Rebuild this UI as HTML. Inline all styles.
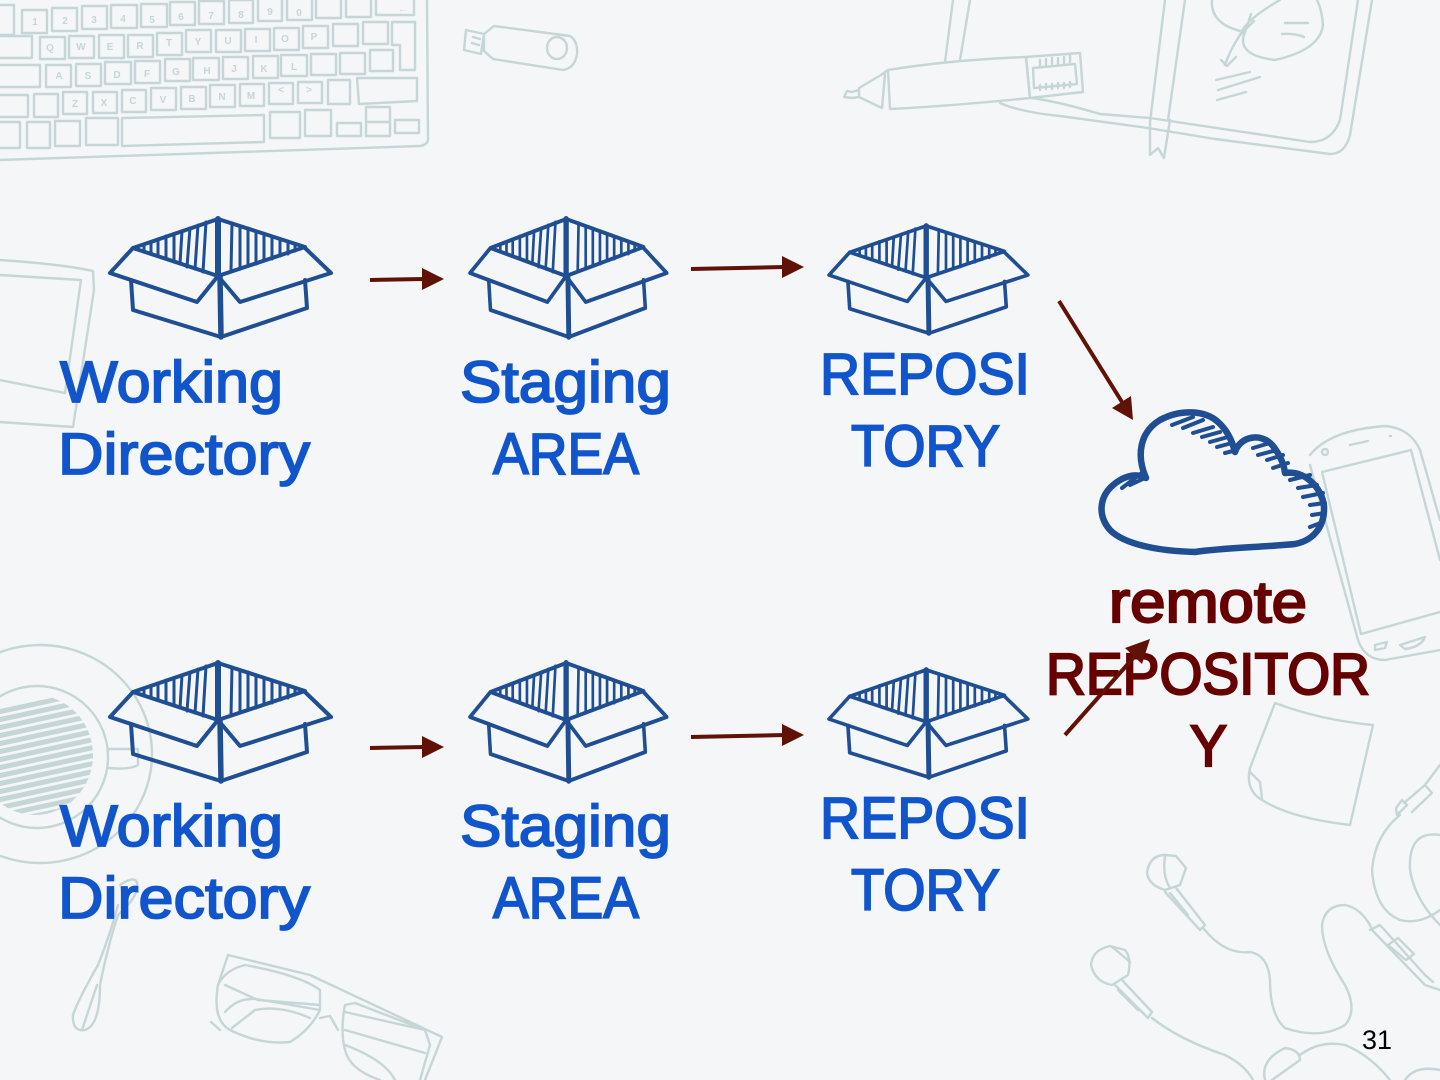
<!DOCTYPE html>
<html><head><meta charset="utf-8"><style>
html,body{margin:0;padding:0;background:#f4f6f8}
svg{display:block}
.bg{fill:none;stroke:#c6d6d6;stroke-width:2.4;stroke-linecap:round;stroke-linejoin:round}
.k{font:bold 10px "Liberation Sans",sans-serif;fill:#c6d6d6;stroke:none;text-anchor:middle}
.t{font-family:"Liberation Sans",sans-serif;font-size:58px;stroke-width:1.8}
.b{fill:#1155cc;stroke:#1155cc}
.r{fill:#660000;stroke:#660000;stroke-width:2.2}
.box{fill:none;stroke:#1f4e93;stroke-width:4;stroke-linejoin:round;stroke-linecap:round}
</style></head><body>
<svg width="1440" height="1080" viewBox="0 0 1440 1080" xmlns="http://www.w3.org/2000/svg">
<rect width="1440" height="1080" fill="#f4f6f8"/>
<defs><clipPath id="cup"><ellipse cx="35" cy="755" rx="58" ry="60"/></clipPath></defs>
<g class="bg">
<!-- keyboard -->
<path d="M427 0L428 140Q427 145 420 146L0 160"/>
<path d="M0 5H14V35H0M22 10h25v23h-25zM52 8h25v23h-25zM82 6h25v23h-25zM111 5h26v23h-26zM141 4h26v23h-26zM170 2h25v23h-25zM199 1h25v23h-25zM229 0h24v23h-24zM258 0v21h24v-21M287 0v20h25v-20M316 0v18h25v-18M346 0v17h25v-17M376 0v15h38v-15"/>
<path d="M0 36h32v22H0M40 37h25v22h-25zM69 36h25v22h-25zM99 35h25v23h-25zM128 35h25v22h-25zM157 33h25v22h-25zM186 30h25v22h-25zM216 30h25v22h-25zM245 29h25v22h-25zM274 28h25v22h-25zM303 26h25v22h-25zM333 24h25v22h-25zM363 22h25v22h-25zM392 22h23v48h-15v-25h-8z"/>
<path d="M0 65h40v22H0M46 65h25v22h-25zM76 64h25v22h-25zM105 62h26v22h-26zM135 61h25v22h-25zM165 59h25v22h-25zM193 58h26v22h-26zM223 57h25v22h-25zM253 56h25v22h-25zM281 55h26v21h-26zM311 54h25v21h-25zM340 53h25v21h-25zM370 50h23v21h-23z"/>
<path d="M0 95h28v22H0M34 94h24v23h-24zM63 92h24v22h-24zM93 92h24v21h-24zM122 90h24v22h-24zM151 88h25v22h-25zM181 87h25v22h-25zM210 85h25v22h-25zM240 84h24v22h-24zM269 83h24v21h-24zM298 82h24v21h-24zM328 80h22v24h-22zM357 78h60v23l-58 3z"/>
<path d="M0 122h20v26H0M27 122h23v26h-23zM55 121h25v25h-25zM86 118h32v27h-32zM122 118l142-3v27l-142 4zM270 112h30v26h-30zM305 110h26v26h-26zM337 123h24v13h-24zM366 107h24v29h-24zM395 120h24v13h-24zM366 122h24"/>
</g>
<g class="k">
<text class="k" x="35" y="25">1</text><text class="k" x="65" y="24">2</text><text class="k" x="94" y="23">3</text><text class="k" x="123" y="22">4</text><text class="k" x="152" y="23">5</text><text class="k" x="181" y="20">6</text><text class="k" x="211" y="19">7</text><text class="k" x="241" y="18">8</text><text class="k" x="270" y="15">9</text><text class="k" x="299" y="16">0</text><text class="k" x="403" y="12">←</text>
<text class="k" x="50" y="51">Q</text><text class="k" x="81" y="50">W</text><text class="k" x="110" y="50">E</text><text class="k" x="140" y="49">R</text><text class="k" x="169" y="46">T</text><text class="k" x="198" y="45">Y</text><text class="k" x="228" y="44">U</text><text class="k" x="256" y="43">I</text><text class="k" x="285" y="42">O</text><text class="k" x="314" y="40">P</text>
<text class="k" x="59" y="79">A</text><text class="k" x="88" y="79">S</text><text class="k" x="117" y="78">D</text><text class="k" x="147" y="77">F</text><text class="k" x="176" y="75">G</text><text class="k" x="207" y="74">H</text><text class="k" x="234" y="72">J</text><text class="k" x="264" y="72">K</text><text class="k" x="294" y="70">L</text>
<text class="k" x="75" y="107">Z</text><text class="k" x="104" y="106">X</text><text class="k" x="133" y="104">C</text><text class="k" x="163" y="103">V</text><text class="k" x="192" y="102">B</text><text class="k" x="222" y="100">N</text><text class="k" x="251" y="99">M</text><text class="k" x="281" y="93">&lt;</text><text class="k" x="309" y="93">&gt;</text>
</g>
<g class="bg">
<!-- USB -->
<path d="M466 30l18 4-3 20-17-4zM484 34l10-8 76 10q8 5 7 18q-2 14-14 16l-70-11-9-8z"/>
<ellipse cx="557" cy="48" rx="10" ry="11"/>
<path d="M473 37l7 2M472 43l7 2" />
<!-- pen & notebook -->
<path d="M953 0L945 62M970 0L960 60M1165 0L1150 122M1185 0L1168 120"/>
<path d="M1000 103Q1020 112 1060 116L1148 128L1215 139L1330 154Q1345 154 1350 135L1372 0"/>
<path d="M1032 98Q1060 102 1100 114L1150 118L1310 142Q1332 142 1340 120L1358 0"/>
<path d="M1150 122L1150 155L1158 148L1164 158L1170 120"/>
<path d="M888 70Q950 60 1026 57L1030 98Q950 106 890 109ZM885 74L882 108M888 70L881 75L859 88V97L882 108M859 90L852 92L847 91L844 97L852 98L859 97"/>
<path d="M1026 57L1080 53L1083 92L1030 98ZM1033 68L1075 64L1077 84L1034 88Z"/>
<path d="M1040 60v6M1046 59v6M1052 58v6M1058 58v6M1064 57v6M1070 56v6M1040 90v-5M1046 89v-5M1052 89v-5M1058 88v-5M1064 88v-5M1070 87v-5"/>
<path d="M1212 0Q1210 25 1245 32Q1235 55 1275 60Q1320 50 1323 25Q1322 10 1317 0M1280 0Q1245 20 1240 35Q1230 50 1225 65M1221 60L1227 66L1236 57M1216 80L1250 72M1218 90L1260 77M1217 100L1246 92M1285 23H1308M1282 34Q1295 33 1304 37"/>
<path d="M1240 35l14-14M1245 32l6-18" />
<!-- left frame -->
<path d="M0 260Q60 264 93 271L94 290L73 427L0 422M0 275L81 280L65 393L0 380"/>
<!-- coffee -->
<ellipse cx="40" cy="754" rx="112" ry="109"/>
<ellipse cx="37" cy="757" rx="71" ry="71"/>
<path d="M108 749H138V765Q130 770 108 768"/>
<g clip-path="url(#cup)" stroke-width="5">
<path d="M-30 718L100 690M-30 726L100 698M-30 734L100 706M-30 742L100 714M-30 750L100 722M-30 758L100 730M-30 766L100 738M-30 774L100 746M-30 782L100 754M-30 790L100 762M-30 798L100 770M-30 806L100 778M-30 814L100 786M-30 822L100 794M-30 830L100 802"/>
</g>
<!-- spoon -->
<path d="M120 885Q135 875 137 883Q140 895 118 915Q108 945 100 985Q100 1025 85 1030Q72 1032 73 1015Q78 1000 98 965Q110 935 118 905M97 985L82 1030"/>
<!-- glasses -->
<path d="M228 955L310 975L442 1037L425 1080M228 955L218 985Q212 1020 230 1030Q260 1045 290 1042Q310 1030 320 1010L320 990Q300 975 245 965Q225 970 218 985M211 1022L220 1030M320 1018L330 1016L338 1030M345 1005Q340 1030 345 1050Q350 1070 380 1080M345 1005L355 1003L425 1030L430 1045L420 1080M225 985L258 1000L320 1005M225 1012Q240 995 262 1000L320 1010M232 1028L255 1010Q280 1005 310 1018M345 1012Q380 1020 425 1030M345 1030L425 1053M345 1045Q385 1060 395 1080"/>
<!-- phone -->
<path d="M1310 455Q1330 430 1385 426Q1410 428 1420 450L1440 520M1310 465L1358 640Q1365 660 1385 660L1440 650M1322 472L1411 450L1440 560M1322 472L1361 634L1440 612"/>
<circle cx="1325" cy="452" r="3"/><path d="M1350 445L1368 441M1390 436h1M1400 645l25-8q-4 10-20 12zM1375 645l12-3-2 6-10 2z"/>
<!-- note -->
<path d="M1275 703Q1320 720 1373 725L1350 825Q1290 818 1262 800Q1245 790 1250 768L1275 703M1250 772L1260 782L1262 798"/>
<!-- earbuds and cables -->
<path d="M1165 855Q1150 855 1147 872Q1148 885 1165 890L1180 885L1186 868L1176 856ZM1165 857Q1162 875 1170 888"/>
<path d="M1176 888L1205 925L1200 930L1165 892M1170 893L1188 915M1204 929Q1225 955 1250 952Q1268 955 1270 980Q1270 1015 1285 1028Q1320 1040 1345 1025Q1358 1010 1345 985Q1322 950 1322 925Q1325 905 1345 905Q1360 908 1370 925"/>
<path d="M1370 925L1372 930L1425 985L1440 990M1370 930L1380 925L1425 975L1433 982M1388 945l10-7 16 16-8 6z"/>
<path d="M1110 946Q1092 950 1091 965Q1095 982 1112 985L1128 975Q1132 958 1125 950ZM1112 947Q1122 955 1130 962"/>
<path d="M1122 980L1152 1012L1148 1018L1115 985M1118 990L1138 1010M1152 1018Q1180 1040 1225 1055Q1245 1065 1253 1080M1265 1080Q1260 1060 1285 1048Q1300 1050 1300 1060L1272 1080M1300 1055Q1320 1040 1345 1045Q1370 1055 1390 1080M1405 1080Q1415 1065 1440 1070"/>
<path d="M1400 815Q1375 835 1372 870Q1375 910 1400 920Q1420 925 1440 910M1397 815L1407 805L1402 800L1396 808ZM1404 803L1425 785L1432 793L1412 812M1425 785L1440 765M1440 835Q1408 830 1410 870Q1415 900 1440 925"/>
</g>
<!-- boxes -->
<defs>
<g id="bx">
<path d="M133 248L218 219L305 247L218 276Z"/>
<path d="M218 219L218 276" stroke-width="6"/>
<path stroke-width="3" d="M144 244L144 252M151 242L151 254M158 239L158 256M166 236L166 259M174 234L174 262M182 231L180 264M190 228L187 267M198 225L195 269M206 222L203 272M232 223L231 271M240 226L240 269M248 228L248 266M256 231L256 264M264 234L264 261M272 237L272 259M280 239L280 256M288 242L288 254M295 245L295 251"/>
<path d="M133 248L110 273L197 302L218 276L240 302L331 273L305 248"/>
<path d="M131 280L133 310L221 337M221 337L307 308L305 280"/>
<path d="M220 276L221 337" stroke-width="5.5"/>
</g>
</defs>
<use href="#bx" class="box"/>
<use href="#bx" class="box" transform="translate(0,444)"/>
<use href="#bx" class="box" transform="translate(470,218) scale(.89,1) translate(-110,-218)"/>
<use href="#bx" class="box" transform="translate(470,662) scale(.89,1) translate(-110,-218)"/>
<use href="#bx" class="box" transform="translate(829,225) scale(.9,.91) translate(-110,-218)"/>
<use href="#bx" class="box" transform="translate(829,669) scale(.9,.91) translate(-110,-218)"/>
<!-- cloud -->
<g fill="none" stroke="#1f4e93" stroke-linecap="round" stroke-linejoin="round">
<path stroke-width="6.5" d="M1146 478C1136 455 1140 432 1160 420C1180 409 1205 410 1218 422C1227 430 1232 440 1235 452C1240 436 1262 432 1273 446C1280 455 1284 465 1285 473C1305 470 1322 488 1324 506C1325 525 1315 540 1295 544C1265 547 1220 548 1195 552C1160 551 1125 545 1110 530C1097 515 1100 497 1112 486C1122 477 1135 472 1146 478Z"/>
<path stroke-width="4" d="M1172 425L1193 417M1183 428L1203 420M1193 433L1213 427M1202 437L1220 432M1210 442L1228 437M1217 447L1232 443M1225 453L1237 450M1253 448L1270 443M1258 455L1277 450M1267 460L1283 455M1273 468L1288 463M1290 480L1310 475M1298 488L1317 485M1303 497L1323 493M1310 505L1325 503M1312 515L1325 513M1310 527L1323 522M1122 488L1143 472M1130 485L1147 477"/>
</g>
<!-- labels -->
<g>
<text class="t b" x="60" y="402" textLength="223" lengthAdjust="spacingAndGlyphs">Working</text><text class="t b" x="58" y="474" textLength="252" lengthAdjust="spacingAndGlyphs">Directory</text>
<text class="t b" x="460" y="402" textLength="211" lengthAdjust="spacingAndGlyphs">Staging</text><text class="t b" x="493" y="474" textLength="146" lengthAdjust="spacingAndGlyphs">AREA</text>
<text class="t b" x="820" y="394" textLength="210" lengthAdjust="spacingAndGlyphs">REPOSI</text><text class="t b" x="851" y="466" textLength="149" lengthAdjust="spacingAndGlyphs">TORY</text>
<text class="t b" x="60" y="846" textLength="223" lengthAdjust="spacingAndGlyphs">Working</text><text class="t b" x="58" y="918" textLength="252" lengthAdjust="spacingAndGlyphs">Directory</text>
<text class="t b" x="460" y="846" textLength="211" lengthAdjust="spacingAndGlyphs">Staging</text><text class="t b" x="493" y="918" textLength="146" lengthAdjust="spacingAndGlyphs">AREA</text>
<text class="t b" x="820" y="838" textLength="210" lengthAdjust="spacingAndGlyphs">REPOSI</text><text class="t b" x="851" y="910" textLength="149" lengthAdjust="spacingAndGlyphs">TORY</text>
<text class="t r" x="1109" y="622" textLength="198" lengthAdjust="spacingAndGlyphs">remote</text><text class="t r" x="1046" y="694" textLength="324" lengthAdjust="spacingAndGlyphs">REPOSITOR</text><text class="t r" x="1190" y="766" textLength="37" lengthAdjust="spacingAndGlyphs">Y</text>
</g>
<!-- arrows -->
<g stroke="#5f1205" stroke-width="4" fill="#5f1205">
<path d="M370 280L424 279" fill="none"/><path stroke="none" d="M422 268L444 279L422 290Z"/>
<path d="M691 269L785 267" fill="none"/><path stroke="none" d="M782 256L804 267L782 278Z"/>
<path d="M370 748L424 747" fill="none"/><path stroke="none" d="M422 736L444 747L422 758Z"/>
<path d="M691 737L785 735" fill="none"/><path stroke="none" d="M782 724L804 735L782 746Z"/>
<path d="M1059 301L1122 402" fill="none"/><path stroke="none" d="M1112 408L1133 420L1131 396Z"/>
<path d="M1065 735L1135 656" fill="none"/><path stroke="none" d="M1125 648L1150 639L1142 664Z"/>
</g>
<text x="1377" y="1049" font-family="Liberation Sans, sans-serif" font-size="27" text-anchor="middle" fill="#000">31</text>
</svg>
</body></html>
